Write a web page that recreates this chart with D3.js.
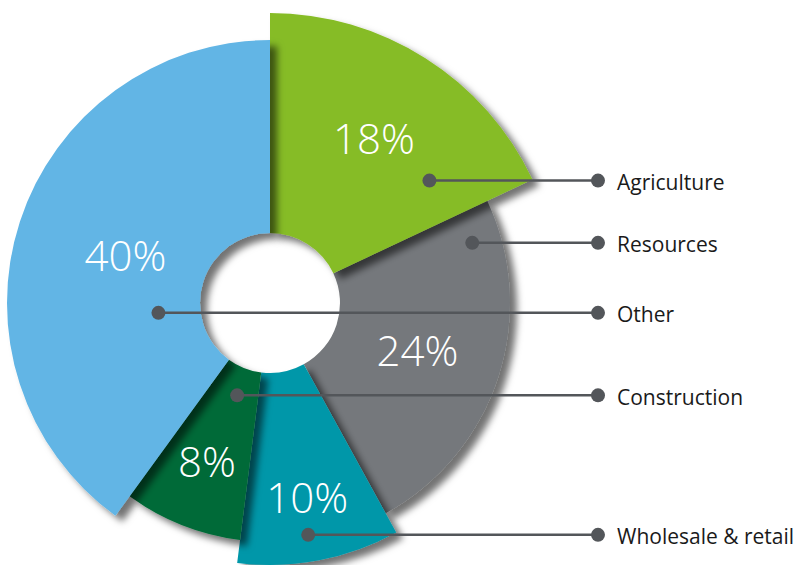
<!DOCTYPE html>
<html>
<head>
<meta charset="utf-8">
<script src="https://cdn.jsdelivr.net/npm/d3@7"></script>
<style>
  body { margin: 0; background: #fff; }
  svg { display: block; font-family: "Open Sans", sans-serif; }
</style>
</head>
<body>
<div class="chart"></div>
<script>
// Data: share by sector, in pie order (clockwise from 12 o'clock)
var sectors = ["Agriculture", "Resources", "Wholesale & retail", "Construction", "Other"];
var shares = [18, 24, 10, 8, 40];
// Legend order down the right side
var legendOrder = ["Agriculture", "Resources", "Other", "Construction", "Wholesale & retail"];

// Styling per sector
var colors = ["#86bc25", "#75787b", "#0097a9", "#046a38", "#62b5e5"];
var outerRadius = [290, 240, 262, 239, 263];
// label radius and callout anchor (fraction through slice angle, radius)
var labelRadius = [194, 155, 198, 171, 152];
var calloutT = [0.81, 0.10, 0.54, 0.43, 0.34];
var calloutR = [201, 211, 235, 98, 112];
// draw order so shadows fall the right way
var drawOrder = [1, 2, 0, 3, 4];

var svgWidth = 796;
var svgHeight = 565;
var cx = 270, cy = 303;
var innerRadius = 70;
var lineEndX = 598;

var svg = d3.select(".chart")
    .append("svg")
    .attr("width", svgWidth)
    .attr("height", svgHeight);

var defs = svg.append("defs");
var filter = defs.append("filter")
    .attr("id", "shadow")
    .attr("x", "-20%").attr("y", "-20%")
    .attr("width", "140%").attr("height", "140%");
filter.append("feDropShadow")
    .attr("dx", 7)
    .attr("dy", 6)
    .attr("stdDeviation", 3.5)
    .attr("flood-color", "#000")
    .attr("flood-opacity", 0.55);

var chart = svg.append("g")
    .attr("transform", `translate(${cx}, ${cy})`);

var pie = d3.pie().sort(null).value(function(d) { return d; });
var arcs = pie(shares);
arcs.forEach(function(a, i) { a.name = sectors[i]; a.idx = i; });

var arc = d3.arc()
    .innerRadius(innerRadius)
    .outerRadius(function(d) { return outerRadius[d.idx]; });

// Slices
chart.selectAll("path.slice")
    .data(drawOrder.map(function(i) { return arcs[i]; }))
    .enter()
    .append("path")
    .attr("class", "slice")
    .attr("d", arc)
    .attr("fill", function(d) { return colors[d.idx]; })
    .attr("filter", "url(#shadow)");

// Percentage labels
function polar(angle, r) {
    return [r * Math.sin(angle), -r * Math.cos(angle)];
}

chart.selectAll("text.pct")
    .data(arcs)
    .enter()
    .append("text")
    .attr("class", "pct")
    .attr("transform", function(d) {
        var p = polar((d.startAngle + d.endAngle) / 2, labelRadius[d.idx]);
        return `translate(${p[0]}, ${p[1]})`;
    })
    .attr("text-anchor", "middle")
    .attr("dy", "0.36em")
    .attr("fill", "#fff")
    .style("font-size", "42px")
    .style("font-weight", 300)
    .text(function(d) { return d.value + "%"; });

// Callouts
var callouts = arcs.map(function(d) {
    var a = d.startAngle + calloutT[d.idx] * (d.endAngle - d.startAngle);
    var p = polar(a, calloutR[d.idx]);
    return { name: d.name, x: p[0], y: p[1] };
});
callouts.sort(function(a, b) {
    return legendOrder.indexOf(a.name) - legendOrder.indexOf(b.name);
});

var lineColor = "#53565a";
var call = chart.selectAll("g.callout")
    .data(callouts)
    .enter()
    .append("g")
    .attr("class", "callout");

call.append("line")
    .attr("x1", function(d) { return d.x; })
    .attr("y1", function(d) { return d.y; })
    .attr("x2", lineEndX - cx)
    .attr("y2", function(d) { return d.y; })
    .attr("stroke", lineColor)
    .attr("stroke-width", 2.5);

call.append("circle")
    .attr("cx", function(d) { return d.x; })
    .attr("cy", function(d) { return d.y; })
    .attr("r", 7)
    .attr("fill", lineColor);

call.append("circle")
    .attr("cx", lineEndX - cx)
    .attr("cy", function(d) { return d.y; })
    .attr("r", 7)
    .attr("fill", lineColor);

call.append("text")
    .attr("x", lineEndX - cx + 19)
    .attr("y", function(d) { return d.y + 2; })
    .attr("dy", "0.35em")
    .attr("fill", "#1a1a1a")
    .style("font-size", "21px")
    .text(function(d) { return d.name; });
</script>
</body>
</html>
